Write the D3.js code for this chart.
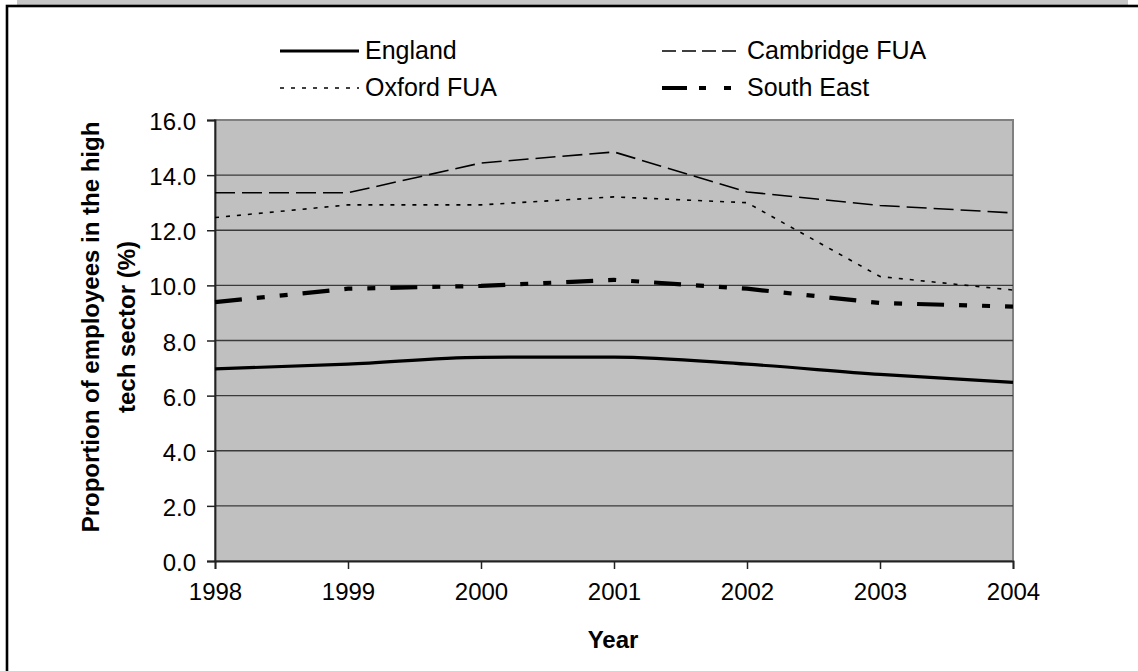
<!DOCTYPE html>
<html>
<head>
<meta charset="utf-8">
<script src="https://cdn.jsdelivr.net/npm/d3@7"></script>
<style>
  html, body { margin: 0; padding: 0; background: #fff; }
  svg { display: block; font-family: "Liberation Sans", Arial, sans-serif; }
</style>
</head>
<body>
<svg id="chart" width="1138" height="671"></svg>
<script>
// Share of employees in the high tech sector, 1998-2004
const years = [1998, 1999, 2000, 2001, 2002, 2003, 2004];
const england   = [6.97, 7.14, 7.39, 7.40, 7.14, 6.77, 6.48];
const cambridge = [13.36, 13.36, 14.44, 14.84, 13.39, 12.90, 12.63];
const oxford    = [12.46, 12.92, 12.92, 13.21, 13.00, 10.32, 9.83];
const southEast = [9.39, 9.88, 9.98, 10.20, 9.88, 9.36, 9.23];
const yTicks = [0, 2, 4, 6, 8, 10, 12, 14, 16];

const seriesNames = ["England", "Cambridge FUA", "Oxford FUA", "South East"];
const seriesValues = [england, cambridge, oxford, southEast];

const styles = {
  "England":       { width: 3.2, dash: null, legendDash: null, curve: d3.curveMonotoneX },
  "Cambridge FUA": { width: 1.6, dash: "20,7", legendDash: "14,6", curve: d3.curveLinear },
  "Oxford FUA":    { width: 1.6, dash: "4,7", legendDash: "4,7", curve: d3.curveLinear },
  "South East":    { width: 4.2, dash: "27,15,8,15,8,15", legendDash: "25,12,7,18,7,18", curve: d3.curveLinear }
};

const svg = d3.select("#chart");
const W = 1138, H = 671;

// frame: grey strip above, black-bordered white panel
svg.append("rect").attr("x", 17).attr("y", 0).attr("width", 1111).attr("height", 6).attr("fill", "#c6c6c6");
svg.append("rect").attr("x", 7).attr("y", 6).attr("width", W + 20).attr("height", H + 20)
  .attr("fill", "#fff").attr("stroke", "#000").attr("stroke-width", 2.6);

const plot = { left: 215, top: 120, right: 1013, bottom: 561 };

const x = d3.scalePoint().domain(years).range([plot.left, plot.right]);
const y = d3.scaleLinear().domain([0, 16]).range([plot.bottom, plot.top]);

// plot background
svg.append("rect")
  .attr("x", plot.left).attr("y", plot.top)
  .attr("width", plot.right - plot.left).attr("height", plot.bottom - plot.top)
  .attr("fill", "#c0c0c0").attr("stroke", "#808080").attr("stroke-width", 2);

// horizontal gridlines
svg.append("g").selectAll("line")
  .data(yTicks.filter(d => d > 0 && d < 16))
  .join("line")
  .attr("x1", plot.left).attr("x2", plot.right)
  .attr("y1", d => y(d)).attr("y2", d => y(d))
  .attr("stroke", "#3a3a3a").attr("stroke-width", 1.4);

// y axis
const yAxis = d3.axisLeft(y).tickValues(yTicks).tickFormat(d3.format(".1f"))
  .tickSize(8).tickPadding(11);
const gy = svg.append("g").attr("transform", `translate(${plot.left},0)`).call(yAxis);
gy.select(".domain").attr("stroke", "#222").attr("stroke-width", 1.8);
gy.selectAll(".tick line").attr("stroke", "#222").attr("stroke-width", 1.5);
gy.selectAll(".tick text").attr("font-size", 24).attr("fill", "#000")
  .attr("font-family", "Liberation Sans, Arial, sans-serif").attr("dy", "0.4em");

// x axis
const xAxis = d3.axisBottom(x).tickSize(8).tickPadding(14);
const gx = svg.append("g").attr("transform", `translate(0,${plot.bottom})`).call(xAxis);
gx.select(".domain").attr("stroke", "#222").attr("stroke-width", 1.8);
gx.selectAll(".tick line").attr("stroke", "#222").attr("stroke-width", 1.5);
gx.selectAll(".tick text").attr("font-size", 24).attr("fill", "#000")
  .attr("font-family", "Liberation Sans, Arial, sans-serif");

// series lines
const line = d3.line().x((d, i) => x(years[i])).y(d => y(d));
seriesNames.forEach((name, k) => {
  const s = styles[name];
  svg.append("path")
    .datum(seriesValues[k])
    .attr("fill", "none")
    .attr("stroke", "#000")
    .attr("stroke-width", s.width)
    .attr("stroke-dasharray", s.dash)
    .attr("d", line.curve(s.curve));
});

// axis titles
svg.append("text")
  .attr("x", 613).attr("y", 648)
  .attr("text-anchor", "middle").attr("font-weight", "bold").attr("font-size", 24)
  .text("Year");

const yTitle = svg.append("text")
  .attr("transform", "translate(110,327) rotate(-90)")
  .attr("text-anchor", "middle").attr("font-weight", "bold").attr("font-size", 24);
yTitle.append("tspan").attr("x", 0).attr("dy", "-0.45em").text("Proportion of employees in the high");
yTitle.append("tspan").attr("x", 0).attr("dy", "1.5em").text("tech sector (%)");

// legend
const legendItems = [
  { name: "England",       lx: 280, ly: 51 },
  { name: "Cambridge FUA", lx: 662, ly: 51 },
  { name: "Oxford FUA",    lx: 280, ly: 88 },
  { name: "South East",    lx: 662, ly: 88 }
];
const lg = svg.append("g");
legendItems.forEach(it => {
  const s = styles[it.name];
  lg.append("line")
    .attr("x1", it.lx).attr("x2", it.lx + 79)
    .attr("y1", it.ly).attr("y2", it.ly)
    .attr("stroke", "#000").attr("stroke-width", s.width)
    .attr("stroke-dasharray", s.legendDash);
  lg.append("text")
    .attr("x", it.lx + 85).attr("y", it.ly + 8)
    .attr("font-size", 25).attr("fill", "#000")
    .text(it.name);
});
</script>
</body>
</html>
